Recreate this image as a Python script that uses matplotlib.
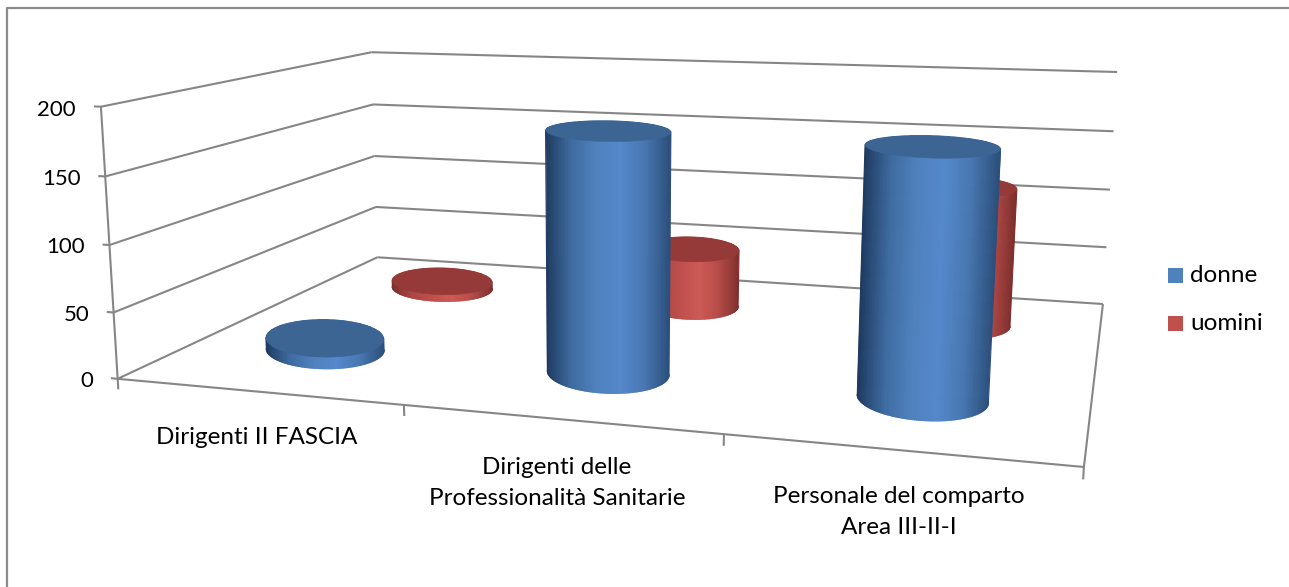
import numpy as np
import matplotlib
matplotlib.use("Agg")
import matplotlib.pyplot as plt

categories = ["Dirigenti II FASCIA", "Dirigenti delle\nProfessionalità Sanitarie", "Personale del comparto\nArea III-II-I"]
series = ["donne", "uomini"]
donne = [9, 180, 178]
uomini = [6, 49, 114]
y_ticks = [0, 50, 100, 150, 200]

# box corners (x, depth, value) -> where they land in the picture
world = np.array([[0, 0, 0], [3, 0, 0], [0, 1, 0], [3, 1, 0],
                  [0, 0, 200], [0, 1, 200], [3, 1, 200]], float)
screen = np.array([[118, 378.5], [1084, 467], [377, 257.5], [1103, 304],
                   [100.5, 107], [372, 52], [1117, 72]], float)

# where each cylinder stands on the floor and how wide it is
donne_x = [0.47, 1.485, 2.5]
uomini_x = [0.49, 1.505, 2.505]
donne_r = [0.217, 0.205, 0.2]
uomini_r = [0.21, 0.185, 0.185]


def fit_camera():
    rows = []
    rhs = []
    for (a, b, c), (u, v) in zip(world, screen):
        rows.append([a, b, c, 1, 0, 0, 0, 0, -u * a, -u * b, -u * c])
        rhs.append(u)
        rows.append([0, 0, 0, 0, a, b, c, 1, -v * a, -v * b, -v * c])
        rhs.append(v)
    p = np.linalg.lstsq(np.array(rows), np.array(rhs), rcond=None)[0]
    return np.append(p, 1).reshape(3, 4)


cam = fit_camera()


def proj(x, d, z):
    x, d, z = np.broadcast_arrays(np.asarray(x, float), np.asarray(d, float), np.asarray(z, float))
    pts = np.stack([x, d, z, np.ones_like(x)])
    out = cam @ pts.reshape(4, -1)
    return out[0] / out[2], out[1] / out[2]


def line3(ax, a, b, lw=1.5):
    xs, ys = proj([a[0], b[0]], [a[1], b[1]], [a[2], b[2]])
    ax.plot(xs, ys, color="#868686", lw=lw, solid_capstyle="butt", zorder=1)


def mix(stops, t):
    rgb = np.array([matplotlib.colors.to_rgb(c) for c in stops])
    pos = np.linspace(0, 1, len(stops))
    return [np.interp(t, pos, rgb[:, i]) for i in range(3)]


def arc(xs, ys, start, end):
    n = len(xs)
    idx = [(start + k) % n for k in range((end - start) % n + 1)]
    return xs[idx], ys[idx]


def cylinder(ax, xc, dc, val, rx, rd, stops, top, zorder):
    ang = np.linspace(0, 2 * np.pi, 240, endpoint=False)
    # the floor is skewed, lean the circle back so the ellipse stays nearly level
    x0 = proj(xc, dc, 0)[0][0]
    step_x = proj(xc + 0.01, dc, 0)[0][0] - x0
    step_d = proj(xc, dc + 0.01, 0)[0][0] - x0
    skew = -0.6 * rd * step_d / step_x
    cx = xc + rx * np.cos(ang) + skew * np.sin(ang)
    cd = dc + rd * np.sin(ang)
    bx, by = proj(cx, cd, 0)
    tx, ty = proj(cx, cd, val)

    # outline = near half of the base, far half of the top
    near_x, near_y = arc(bx, by, np.argmin(bx), np.argmax(bx))
    far_x, far_y = arc(tx, ty, np.argmax(tx), np.argmin(tx))
    out_x = np.r_[near_x, far_x]
    out_y = np.r_[near_y, far_y]

    # gradient across the body, clipped to the outline
    n = 90
    top_edge = np.linspace(tx.min(), tx.max(), n + 1)
    bot_edge = np.linspace(bx.min(), bx.max(), n + 1)
    top_edge[[0, -1]] += [-4, 4]
    bot_edge[[0, -1]] += [-4, 4]
    mesh_x = np.array([top_edge, bot_edge])
    mesh_y = np.array([[ty.min() - 2] * (n + 1), [by.max() + 2] * (n + 1)])
    cols = np.array([[mix(stops, (k + 0.5) / n) for k in range(n)]])
    mesh = ax.pcolormesh(mesh_x, mesh_y, cols, shading="flat", zorder=zorder)
    mesh.set_clip_path(plt.Polygon(np.c_[out_x, out_y], transform=ax.transData))

    # soft edge along the outline, the clip alone leaves it jagged
    for i in range(len(near_x) - 1):
        t = (near_x[i] - bx.min()) / (bx.max() - bx.min())
        ax.plot(near_x[i:i + 2], near_y[i:i + 2], color=mix(stops, t), lw=0.8, zorder=zorder + 0.05)
    ax.plot([bx.min(), tx.min()], [by[np.argmin(bx)], ty[np.argmin(tx)]], color=stops[0], lw=0.8, zorder=zorder + 0.05)
    ax.plot([bx.max(), tx.max()], [by[np.argmax(bx)], ty[np.argmax(tx)]], color=stops[-1], lw=0.8, zorder=zorder + 0.05)
    ax.fill(tx, ty, color=top, lw=0.4, zorder=zorder + 0.1)


plt.rcParams["font.family"] = ["Lato", "DejaVu Sans"]
fig = plt.figure(figsize=(12.89, 5.87), dpi=100)
ax = fig.add_axes([0, 0, 1, 1])
ax.set_xlim(0, 1289)
ax.set_ylim(587, 0)
ax.axis("off")

# chart border
ax.plot([7, 7, 1289], [587, 8, 8], color="#8c8c8c", lw=1.6, zorder=1)

# walls and floor
for v in y_ticks:
    line3(ax, (0, 0, v), (0, 1, v))
    line3(ax, (0, 1, v), (3, 1, v))
    line3(ax, (-0.025, 0, v), (0, 0, v))
    px, py = proj(-0.09, 0, v)
    ax.text(px[0], py[0] + 4, str(v), ha="right", va="center", fontsize=16, color="black")
line3(ax, (0, 0, 0), (0, 0, 200))
line3(ax, (0, 0, 0), (3, 0, 0))
line3(ax, (3, 0, 0), (3, 1, 0))
for i in range(4):
    line3(ax, (i, 0, 0), (i, 0, -8))

blue = ["#1f3a5f", "#3d6a9f", "#4f81bd", "#5588cc", "#4877b0", "#2c4f7c"]
red = ["#7e302e", "#ab4643", "#c0504d", "#cd5a56", "#b54b48", "#7e302e"]
for i in range(3):
    cylinder(ax, uomini_x[i], 0.77, uomini[i], uomini_r[i], 0.115, red, "#953a38", 2 + i)
    cylinder(ax, donne_x[i], 0.27, donne[i], donne_r[i], 0.12, blue, "#3d6594", 3 + i)

# category labels
label_pos = [(257, 437), (557, 483), (899, 512)]
for name, (lx, ly) in zip(categories, label_pos):
    ax.text(lx, ly, name, ha="center", va="center", fontsize=17.5, linespacing=1.53, color="black")

# legend
for name, c, ly in zip(series, ("#4f81bd", "#c0504d"), (275, 323)):
    ax.add_patch(plt.Rectangle((1168, ly - 7), 15, 15, color=c, lw=0))
    ax.text(1190, ly, name, ha="left", va="center", fontsize=17.5, color="black")

fig.savefig("out.png", dpi=100)
